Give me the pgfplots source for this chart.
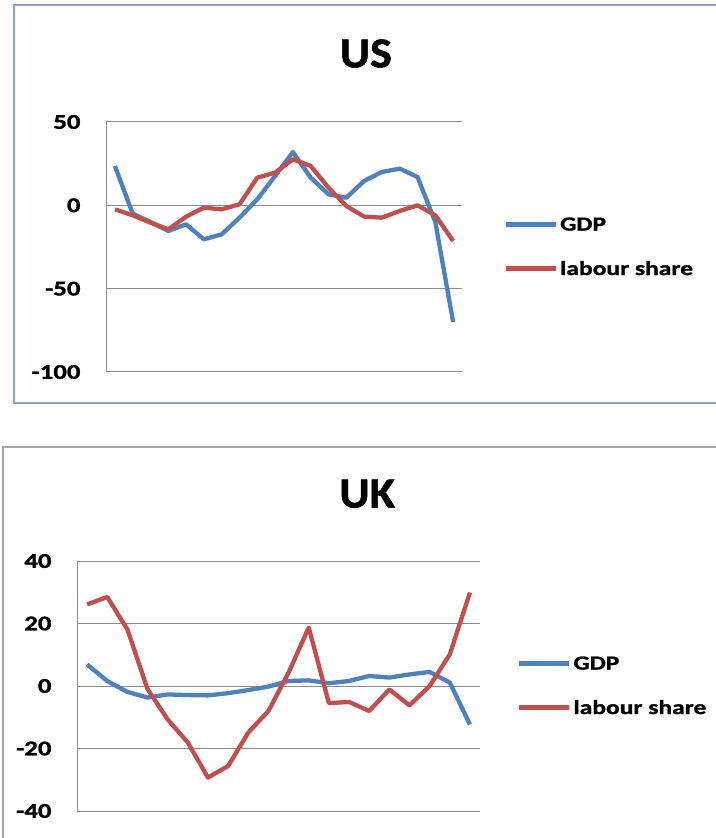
\documentclass[border=0pt]{standalone}
\usepackage{fontspec}
\setmainfont{Carlito}
\newfontfamily\lblfont{Carlito}[FakeStretch=1.28, BoldFeatures={FakeBold=1.2}]
\newfontfamily\ttlfont{Carlito}[FakeStretch=1.08, BoldFeatures={FakeBold=1.2}]
\usepackage{pgfplots}
\pgfplotsset{compat=1.18}

\definecolor{gdpblue}{HTML}{4F81BD}
\definecolor{labred}{HTML}{C0504D}
\definecolor{gridgray}{HTML}{8C8C8C}
\definecolor{frameblue}{HTML}{8FA3BC}
\definecolor{framegray}{HTML}{A6A6A6}

\pgfplotsset{
  excelstyle/.style={
    scale only axis,
    axis x line=none,
    axis y line*=left,
    y axis line style={gridgray, line width=1bp, -},
    ymajorgrids,
    grid style={gridgray, line width=1bp},
    major tick length=0pt,
    xmin=0.5, xmax=20.5,
    /pgf/number format/assume math mode=true,
    tick label style={font=\lblfont\bfseries\fontsize{21}{21}\selectfont},
    yticklabel style={xshift=-22bp},
    title style={font=\ttlfont\bfseries\fontsize{43}{43}\selectfont, anchor=center},
    legend cell align=left,
    legend style={draw=none, fill=none, anchor=west, inner sep=0pt,
      font=\lblfont\bfseries\fontsize{20}{20}\selectfont,
      row sep=25bp,
      /tikz/every odd column/.append style={column sep=0bp}},
    legend image code/.code={\draw[#1, line width=5bp] (0bp,0bp) -- (50bp,0bp);},
  },
  gdp/.style={gdpblue, line width=4.3bp, line join=round},
  lab/.style={labred, line width=4.3bp, line join=round},
}

\begin{document}
\begin{tikzpicture}[x=1bp, y=1bp]
\path[use as bounding box] (0,0) rectangle (716,838);
% frames
\draw[frameblue, line width=2bp] (14,833) rectangle (730,435);
\draw[framegray, line width=1.5bp] (3,391) rectangle (730,-10);

% US
\begin{axis}[excelstyle,
  at={(106bp,466bp)}, anchor=south west,
  width=356bp, height=250bp,
  ymin=-100, ymax=50, ytick={-100,-50,0,50},
  title={US}, title style={at={(0.73,1.25)}},
  legend style={at={(1.115,0.5)}},
]
\addplot[gdp] coordinates {
(1,23.6) (2,-5) (3,-10) (4,-15.4) (5,-11.4) (6,-20.4) (7,-17.4) (8,-7.4) (9,3.6) (10,17.6)
(11,32) (12,16.6) (13,6.6) (14,4.6) (15,14.6) (16,20) (17,22) (18,17) (19,-10) (20,-70)};
\addplot[lab] coordinates {
(1,-2.4) (2,-6) (3,-10.4) (4,-14.4) (5,-6.8) (6,-1.4) (7,-2.4) (8,0.6) (9,16.6) (10,19.6)
(11,27.6) (12,23.6) (13,10.6) (14,-0.4) (15,-6.8) (16,-7.4) (17,-3.4) (18,0) (19,-6) (20,-21.4)};
\legend{GDP, labour share}
\end{axis}

% UK
\begin{axis}[excelstyle,
  at={(77bp,27bp)}, anchor=south west,
  width=403bp, height=250bp,
  ymin=-40, ymax=40, ytick={-40,-20,0,20,40},
  title={UK}, title style={at={(0.72,1.245)}},
  legend style={at={(1.09,0.5)}},
]
\addplot[gdp] coordinates {
(1,6.9) (2,1.6) (3,-1.9) (4,-3.7) (5,-2.7) (6,-2.9) (7,-3) (8,-2.3) (9,-1.3) (10,-0.2)
(11,1.6) (12,1.8) (13,0.9) (14,1.6) (15,3.2) (16,2.7) (17,3.7) (18,4.5) (19,1.1) (20,-12.3)};
\addplot[lab] coordinates {
(1,26.1) (2,28.5) (3,18.1) (4,-1) (5,-10.7) (6,-18.1) (7,-29.3) (8,-25.6) (9,-14.9) (10,-8)
(11,4.3) (12,18.7) (13,-5.5) (14,-5.1) (15,-8) (16,-1.1) (17,-6.2) (18,0) (19,10.1) (20,29.9)};
\legend{GDP, labour share}
\end{axis}
\end{tikzpicture}
\end{document}
